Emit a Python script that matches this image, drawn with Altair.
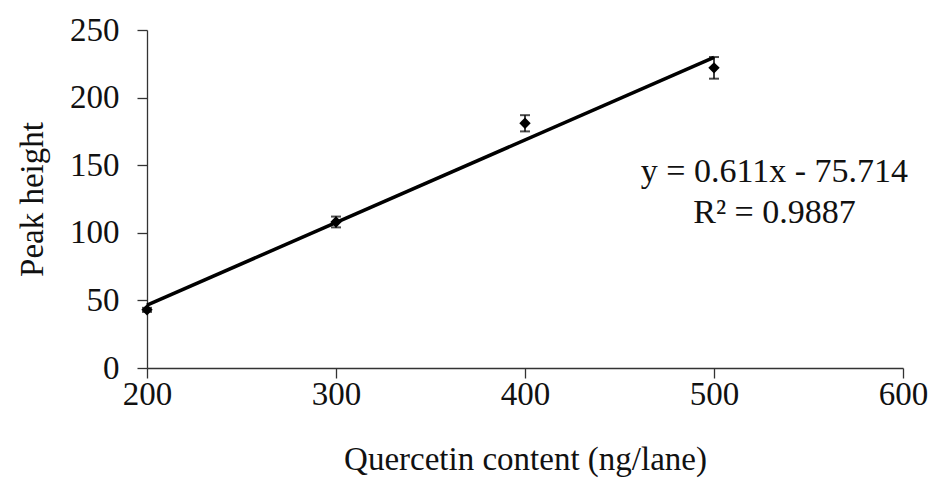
import altair as alt
import pandas as pd

conc = [200, 300, 400, 500]
peak = [43, 108, 181, 222]
err = [1.5, 4, 6, 8]
slope = 0.611
intercept = -75.714
eq_lines = ["y = 0.611x - 75.714", "R² = 0.9887"]

df = pd.DataFrame({"x": conc, "y": peak, "lo": [p - e for p, e in zip(peak, err)],
                   "hi": [p + e for p, e in zip(peak, err)]})
fit = pd.DataFrame({"x": [200, 500], "y": [slope * 200 + intercept, slope * 500 + intercept]})
txt = pd.DataFrame({"x": [532, 532], "y": [145, 115], "t": eq_lines})

FONT = "Liberation Serif"
xs = alt.Scale(domain=[200, 600], nice=False, zero=False)
ys = alt.Scale(domain=[0, 250], nice=False)
xax = alt.Axis(values=[200, 300, 400, 500, 600], labelPadding=0, titlePadding=32)
yax = alt.Axis(values=[0, 50, 100, 150, 200, 250], labelPadding=18, titlePadding=20)
XT = "Quercetin content (ng/lane)"
YT = "Peak height"


def X(f):
    return alt.X(f, scale=xs, axis=xax, title=XT)


def Y(f):
    return alt.Y(f, scale=ys, axis=yax, title=YT)


line = alt.Chart(fit).mark_line(color="black", strokeWidth=3.5).encode(x=X("x:Q"), y=Y("y:Q"))
rules = alt.Chart(df).mark_rule(color="black", strokeWidth=1.5).encode(
    x=X("x:Q"), y=Y("lo:Q"), y2="hi:Q")
tlo = alt.Chart(df).mark_tick(color="black", thickness=2, size=10, orient="horizontal").encode(
    x=X("x:Q"), y=Y("lo:Q"))
thi = alt.Chart(df).mark_tick(color="black", thickness=2, size=10, orient="horizontal").encode(
    x=X("x:Q"), y=Y("hi:Q"))
pts = alt.Chart(df).mark_point(shape="diamond", filled=True, color="black", size=130, opacity=1).encode(
    x=X("x:Q"), y=Y("y:Q"))
text = alt.Chart(txt).mark_text(font=FONT, fontSize=34, color="#111", align="center",
                                baseline="middle").encode(x=X("x:Q"), y=Y("y:Q"), text="t:N")

chart = alt.layer(line, rules, tlo, thi, pts, text).properties(
    width=756, height=338,
    autosize=alt.AutoSizeParams(type="none"),
    padding={"left": 147, "top": 30, "right": 29, "bottom": 113},
    background="white"
).configure_view(stroke=None).configure_axis(
    grid=False, tickSize=10, domainColor="#333", tickColor="#333", domainWidth=1.3, tickWidth=1.3,
    labelFont=FONT, labelFontSize=33, labelColor="#111", labelFlush=False, labelOverlap=False,
    titleFont=FONT, titleFontSize=33, titleFontWeight="normal", titleColor="#111")

chart.save("out.html", embed_options={"renderer": "svg", "actions": False})
